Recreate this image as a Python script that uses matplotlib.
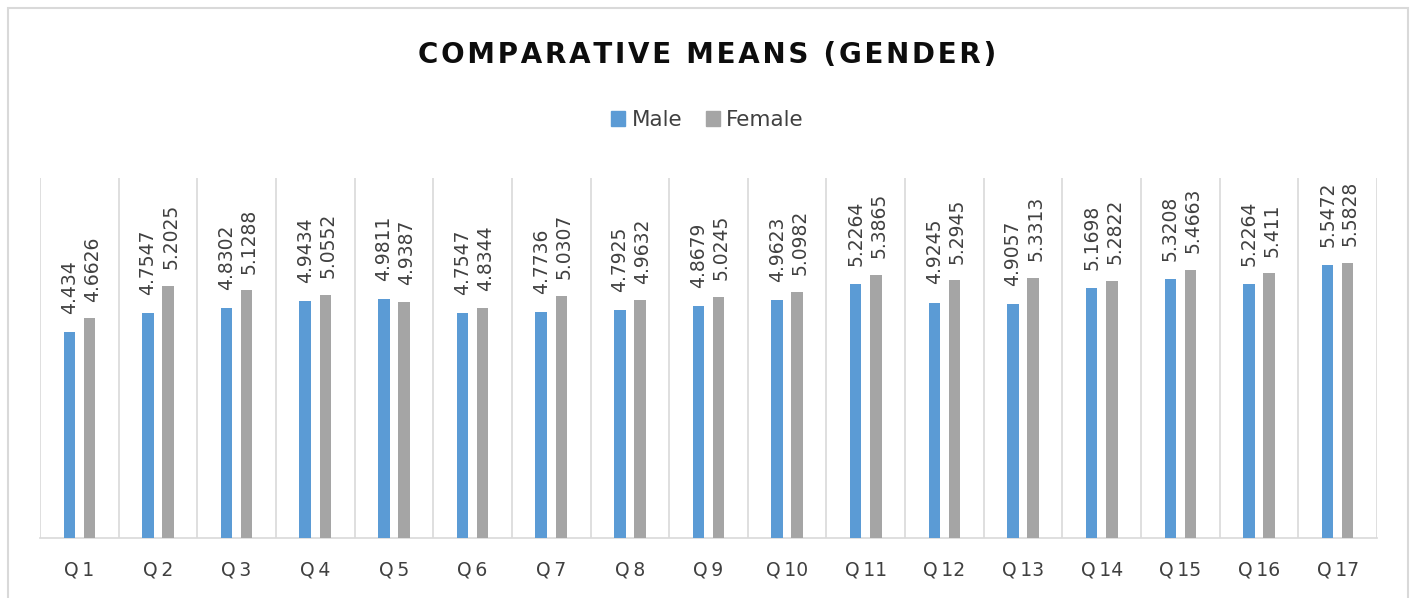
import numpy as np
import matplotlib.pyplot as plt
from matplotlib.patches import Patch, Rectangle

# data
questions = ['Q1', 'Q2', 'Q3', 'Q4', 'Q5', 'Q6', 'Q7', 'Q8', 'Q9', 'Q10',
             'Q11', 'Q12', 'Q13', 'Q14', 'Q15', 'Q16', 'Q17']
male = [4.434, 4.7547, 4.8302, 4.9434, 4.9811, 4.7547, 4.7736, 4.7925, 4.8679,
        4.9623, 5.2264, 4.9245, 4.9057, 5.1698, 5.3208, 5.2264, 5.5472]
female = [4.6626, 5.2025, 5.1288, 5.0552, 4.9387, 4.8344, 5.0307, 4.9632, 5.0245,
          5.0982, 5.3865, 5.2945, 5.3313, 5.2822, 5.4663, 5.411, 5.5828]
male_labels = ['4.434', '4.7547', '4.8302', '4.9434', '4.9811', '4.7547', '4.7736',
               '4.7925', '4.8679', '4.9623', '5.2264', '4.9245', '4.9057', '5.1698',
               '5.3208', '5.2264', '5.5472']
female_labels = ['4.6626', '5.2025', '5.1288', '5.0552', '4.9387', '4.8344', '5.0307',
                 '4.9632', '5.0245', '5.0982', '5.3865', '5.2945', '5.3313', '5.2822',
                 '5.4663', '5.411', '5.5828']

blue = '#5B9BD5'
grey = '#A5A5A5'

fig = plt.figure(figsize=(14.15, 5.98), dpi=100)
ax = fig.add_axes([40/1415, 1 - 538/598, (1377 - 40)/1415, (538 - 178)/598])

x = np.arange(len(questions))
w = 0.146
off = 0.128
bm = ax.bar(x - off, male, width=w, color=blue, zorder=3)
bf = ax.bar(x + off, female, width=w, color=grey, zorder=3)

for rect, lab in zip(bm, male_labels):
    ax.annotate(lab, (rect.get_x() + rect.get_width()/2, rect.get_height()),
                xytext=(0, 13), textcoords='offset points', rotation=90,
                ha='center', va='bottom', fontsize=13.5, color='#404040')
for rect, lab in zip(bf, female_labels):
    ax.annotate(lab, (rect.get_x() + rect.get_width()/2, rect.get_height()),
                xytext=(2, 12), textcoords='offset points', rotation=90,
                ha='center', va='bottom', fontsize=13.5, color='#404040')

ax.set_xlim(-0.5, len(questions) - 0.5)
ax.set_ylim(1, 7)

# category separators
for b in np.arange(-0.5, len(questions), 1):
    ax.axvline(b, color='#D9D9D9', lw=1.2, zorder=1)

ax.set_xticks(x)
ax.set_xticklabels([q[0] + '\u2009' + q[1:] for q in questions],
                   fontsize=13.5, color='#404040')
ax.tick_params(axis='x', length=0, pad=16)
ax.set_yticks([])
for s in ['left', 'right', 'top']:
    ax.spines[s].set_visible(False)
ax.spines['bottom'].set_color('#D9D9D9')
ax.spines['bottom'].set_linewidth(1.2)

title = '\u200a'.join('COMPARATIVE MEANS (GENDER)')
fig.text(0.5, 1 - 55/598, title, ha='center', va='center',
         fontsize=20, fontweight='bold', color='#0D0D0D')

handles = [Patch(color=blue, label='Male'), Patch(color=grey, label='Female')]
fig.legend(handles=handles, loc='center', bbox_to_anchor=(0.5, 1 - 120/598),
           ncol=2, frameon=False, fontsize=15.5, handlelength=0.65, handleheight=0.65,
           handletextpad=0.3, columnspacing=1.1, labelcolor='#404040')

# outer chart border
fig.patches.append(Rectangle((8/1415, -0.05), (1408 - 8)/1415, 1.05 - 8/598,
                             transform=fig.transFigure, fill=False,
                             edgecolor='#D9D9D9', lw=1.5))

fig.savefig('out.png', dpi=100, facecolor='white')
